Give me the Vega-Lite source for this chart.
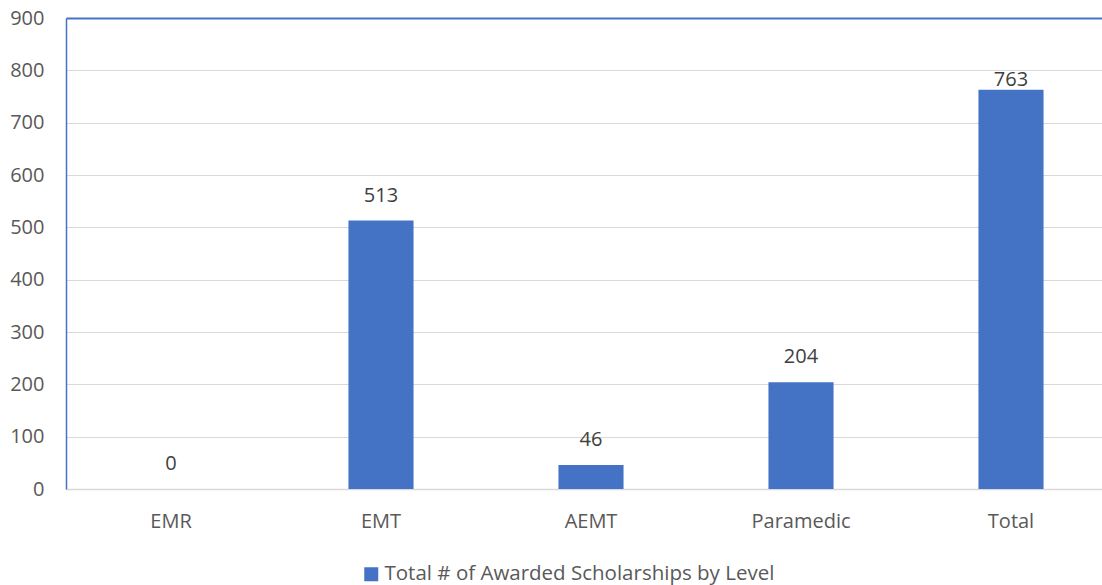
{
  "$schema": "https://vega.github.io/schema/vega-lite/v6.json",
  "autosize": "none",
  "padding": {"left": 66, "top": 18, "right": 0, "bottom": 96},
  "width": 1050,
  "height": 471,
  "background": "white",
  "config": {
    "view": {"stroke": null},
    "font": "Open Sans",
    "axis": {"labelFont": "Open Sans", "labelColor": "#595959", "labelFontSize": 20, "ticks": false, "title": null}
  },
  "data": {
    "values": [
      {"level": "EMR", "count": 0, "series": "Total # of Awarded Scholarships by Level"},
      {"level": "EMT", "count": 513, "series": "Total # of Awarded Scholarships by Level"},
      {"level": "AEMT", "count": 46, "series": "Total # of Awarded Scholarships by Level"},
      {"level": "Paramedic", "count": 204, "series": "Total # of Awarded Scholarships by Level"},
      {"level": "Total", "count": 763, "series": "Total # of Awarded Scholarships by Level"}
    ]
  },
  "encoding": {
    "x": {
      "field": "level", "type": "nominal", "sort": null,
      "scale": {"paddingInner": 0.69, "paddingOuter": 0.345},
      "axis": {"labelAngle": 0, "labelPadding": 22, "domainColor": "#d9d9d9", "domainWidth": 1.5, "grid": false}
    },
    "y": {
      "field": "count", "type": "quantitative",
      "scale": {"domain": [0, 900], "nice": false},
      "axis": {
        "values": [0, 100, 200, 300, 400, 500, 600, 700, 800, 900],
        "labelPadding": 22,
        "domainColor": "#4472C4", "domainWidth": 1.5,
        "gridColor": {"condition": {"test": "datum.value == 900", "value": "#4472C4"}, "value": "#d9d9d9"},
        "gridWidth": {"condition": {"test": "datum.value == 900", "value": 2}, "value": 1.2}
      }
    }
  },
  "layer": [
    {
      "mark": {"type": "bar", "color": "#4472C4"},
      "encoding": {
        "color": {
          "field": "series", "type": "nominal",
          "scale": {"range": ["#4472C4"]},
          "legend": {
            "orient": "none", "legendX": 295, "legendY": 546, "direction": "horizontal",
            "title": null, "symbolType": "square", "symbolSize": 196, "symbolStrokeWidth": 0,
            "labelFontSize": 20.5, "labelColor": "#595959", "labelFont": "Open Sans", "labelOffset": 3, "labelLimit": 700
          }
        }
      }
    },
    {
      "transform": [{"filter": "datum.count < 700"}],
      "mark": {"type": "text", "baseline": "middle", "dy": -25, "fontSize": 20, "color": "#404040", "font": "Open Sans"},
      "encoding": {"text": {"field": "count", "type": "quantitative"}}
    },
    {
      "transform": [{"filter": "datum.count >= 700"}],
      "mark": {"type": "text", "baseline": "middle", "dy": -10, "fontSize": 20, "color": "#404040", "font": "Open Sans"},
      "encoding": {"text": {"field": "count", "type": "quantitative"}}
    }
  ]
}
